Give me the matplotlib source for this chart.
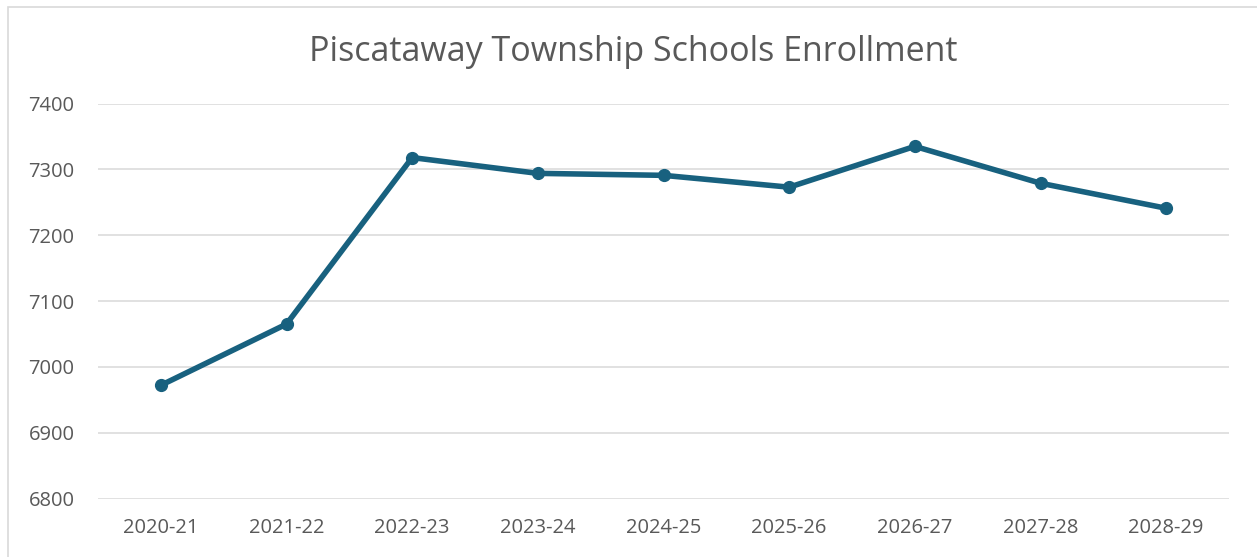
import matplotlib
matplotlib.use("Agg")
import matplotlib.pyplot as plt
from matplotlib.patches import Rectangle

years = ["2020-21", "2021-22", "2022-23", "2023-24", "2024-25",
         "2025-26", "2026-27", "2027-28", "2028-29"]
enrollment = [6972, 7065, 7318, 7294, 7291, 7273, 7335, 7279, 7241]
yticks = [6800, 6900, 7000, 7100, 7200, 7300, 7400]

plt.rcParams['font.family'] = ['Open Sans', 'DejaVu Sans']

fig = plt.figure(figsize=(12.57, 5.57), dpi=100)
ax = fig.add_axes([98/1257, 1-498.5/557, (1229-98)/1257, (498.5-103.6)/557])

x = list(range(len(years)))
ax.plot(x, enrollment, color='#18617F', lw=4.0, marker='o', markersize=8.5,
        solid_capstyle='round', zorder=3)

ax.set_xlim(-0.5, len(years)-0.5)
ax.set_ylim(6800, 7400)
ax.set_yticks(yticks)
ax.set_xticks(x)
ax.set_xticklabels(years)
ax.grid(axis='y', color='#D9D9D9', lw=1.1)
ax.set_axisbelow(True)
for s in ax.spines.values():
    s.set_visible(False)
ax.tick_params(axis='both', length=0, labelsize=14.5, labelcolor='#595959')
ax.tick_params(axis='y', pad=17)
ax.tick_params(axis='x', pad=14)

fig.text(0.504, 1-61/557, "Piscataway Township Schools Enrollment",
         ha='center', va='baseline', fontsize=24.5, color='#595959')

fig.patches.append(Rectangle((8/1257, -0.1), 1.5, 1.1 - 7/557,
                             transform=fig.transFigure, fill=False,
                             edgecolor='#D9D9D9', lw=1.2))

fig.savefig("out.png", dpi=100, facecolor='white')
